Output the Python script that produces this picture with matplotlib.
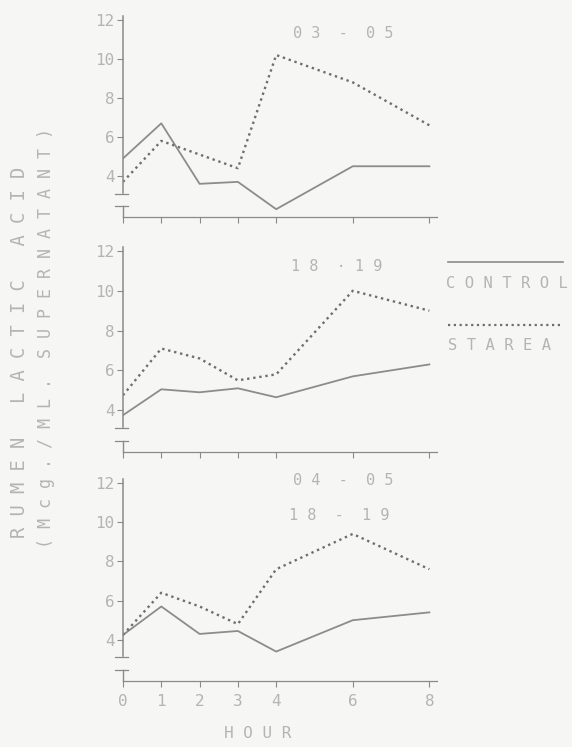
import matplotlib
matplotlib.use("Agg")
import matplotlib.pyplot as plt
from matplotlib.lines import Line2D

# ---- data ----
hours = [0, 1, 2, 3, 4, 6, 8]
hour_labels = ["0", "1", "2", "3", "4", "6", "8"]
y_ticks = [4, 6, 8, 10, 12]
panel_titles = [["0 3  -  0 5"], ["1 8  · 1 9"], ["0 4  -  0 5", "1 8  -  1 9"]]

control_0305 = [4.9, 6.7, 3.6, 3.7, 2.3, 4.5, 4.5]
starea_0305 = [3.7, 5.8, 5.1, 4.4, 10.2, 8.8, 6.6]

control_1819 = [3.75, 5.05, 4.9, 5.1, 4.65, 5.7, 6.3]
starea_1819 = [4.75, 7.1, 6.6, 5.5, 5.8, 10.0, 9.0]

control_both = [4.25, 5.7, 4.3, 4.45, 3.4, 5.0, 5.4]
starea_both = [4.25, 6.4, 5.7, 4.8, 7.6, 9.4, 7.6]

controls = [control_0305, control_1819, control_both]
stareas = [starea_0305, starea_1819, starea_both]

# ---- style ----
BG = "#f6f6f4"
TXT = "#b4b4b4"
AX = "#8a8a8a"
CTRL = "#8c8c8c"
STAR = "#6e6e6e"
MONO = "DejaVu Sans Mono"

fig = plt.figure(figsize=(5.72, 7.47), dpi=100, facecolor=BG)

W, H = 572.0, 747.0
left_px = 123
width_px = 314
# (top_px, bottom_px) of each axes
boxes = [(16, 217), (247, 452), (479, 681)]
title_pos = [[(0.70, 0.915)], [(0.68, 0.907)], [(0.70, 0.995), (0.69, 0.82)]]

ylo, yhi = 1.9, 12.2
for i, (top, bot) in enumerate(boxes):
    ax = fig.add_axes([left_px / W, 1 - bot / H, width_px / W, (bot - top) / H])
    ax.set_facecolor("none")
    ax.plot(hours, controls[i], color=CTRL, lw=1.3, linestyle="-")
    ax.plot(hours, stareas[i], color=STAR, lw=1.7, linestyle=(0, (1, 1.6)))
    ax.set_xlim(0, 8.2)
    ax.set_ylim(ylo, yhi)
    for s in ["top", "right"]:
        ax.spines[s].set_visible(False)
    ax.spines["left"].set_color(AX)
    ax.spines["bottom"].set_color(AX)
    ax.spines["left"].set_linewidth(1.1)
    ax.spines["bottom"].set_linewidth(0.9)
    ax.spines["left"].set_bounds(3.15, yhi)
    ax.set_yticks(y_ticks)
    ax.set_yticklabels([str(v) for v in y_ticks], fontsize=11.5, color=TXT,
                       family=MONO)
    ax.set_xticks(hours)
    ax.tick_params(axis="both", colors=AX, length=4, width=0.8, direction="out")
    ax.tick_params(axis="y", pad=2, labelcolor=TXT)
    if i == 2:
        ax.set_xticklabels(hour_labels, fontsize=11.5, color=TXT, family=MONO)
        ax.tick_params(axis="x", pad=5, labelcolor=TXT)
    else:
        ax.set_xticklabels([])
    # axis break marks
    trans = ax.get_yaxis_transform()
    ax.plot([-0.025, 0.015], [3.1, 3.1], transform=trans, color=AX, lw=0.9,
            clip_on=False)
    ax.plot([-0.025, 0.015], [2.45, 2.45], transform=trans, color=AX, lw=0.9,
            clip_on=False)
    ax.plot([0, 0], [ylo, 2.45], transform=trans, color=AX, lw=1.0,
            clip_on=False)
    for txt, (tx, ty) in zip(panel_titles[i], title_pos[i]):
        ax.text(tx, ty, txt, transform=ax.transAxes, ha="center", va="center",
                fontsize=11, color=TXT, family=MONO)

# legend
fig.add_artist(Line2D([448 / W, 563 / W], [1 - 262 / H, 1 - 262 / H],
                      color=CTRL, lw=1.2))
fig.text(507 / W, 1 - 283 / H, "C O N T R O L", ha="center", va="center",
         fontsize=11.2, color=TXT, family=MONO)
fig.add_artist(Line2D([448 / W, 563 / W], [1 - 325 / H, 1 - 325 / H],
                      color=STAR, lw=1.6, linestyle=(0, (1, 1.6))))
fig.text(448 / W, 1 - 345 / H, "S T A R E A", ha="left", va="center",
         fontsize=11.2, color=TXT, family=MONO)

# axis labels
fig.text(258 / W, 1 - 733 / H, "H O U R", ha="center", va="center",
         fontsize=11.5, color=TXT, family=MONO)
fig.text(20 / W, 1 - 352 / H, "R U M E N   L A C T I C   A C I D",
         rotation=90, ha="center", va="center", fontsize=13.5, color=TXT,
         family=MONO)
fig.text(46 / W, 1 - 338 / H, "( M c g . / M L .  S U P E R N A T A N T )",
         rotation=90, ha="center", va="center", fontsize=12, color=TXT,
         family=MONO)

fig.savefig("out.png", dpi=100, facecolor=BG)
